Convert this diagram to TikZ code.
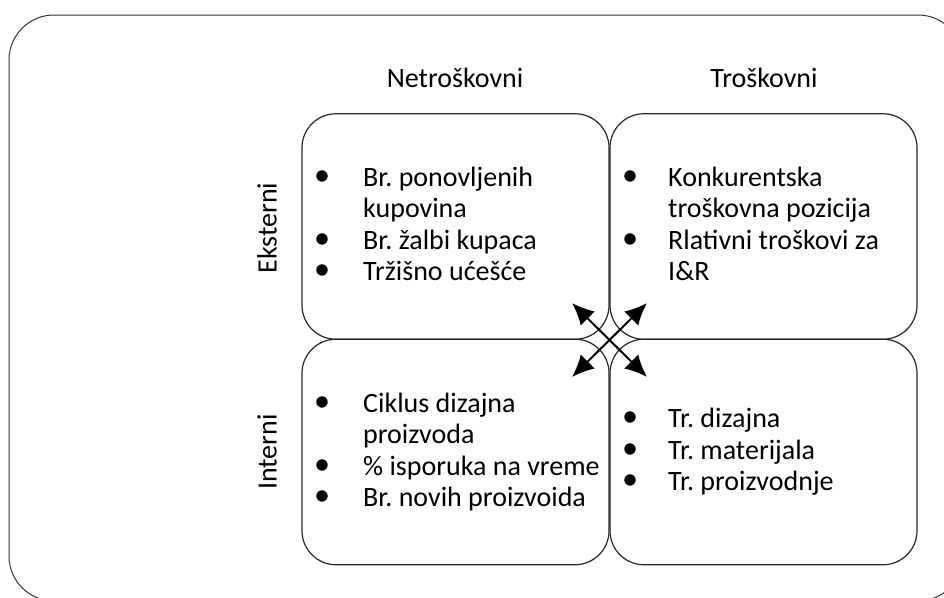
\documentclass[tikz,border=0pt]{standalone}
\usepackage{fontspec}
\setmainfont{Carlito}
\usetikzlibrary{arrows.meta}
\frenchspacing
\newcommand{\bul}{\raisebox{1pt}{\scalebox{1.15}{•}}}
\begin{document}
\begin{tikzpicture}[x=1pt,y=-1pt,
  quad/.style={draw=black!85,line width=1.2pt,rounded corners=34pt,minimum width=307pt,minimum height=225.5pt,inner sep=0pt},
  lbl/.style={font=\fontsize{28}{31.5}\selectfont,inner sep=0pt},
  lst/.style={lbl,anchor=west,align=left},
  dbl/.style={line width=2pt,{Latex[length=22pt,width=20pt]}-{Latex[length=22pt,width=20pt]}}]
\useasboundingbox (0,0) rectangle (944,597);
\clip (0,0) rectangle (944,597);
% outer frame
\draw[black!80,line width=1pt,rounded corners=45pt] (9,15) rectangle (963,601);
% quadrants
\node[quad] (tl) at (455.5,226.5) {};
\node[quad] (tr) at (763.5,226.5) {};
\node[quad] (bl) at (455.5,452) {};
\node[quad] (br) at (763.5,452) {};
% headers
\node[lbl] (h1) at (455,78) {Netroškovni};
\node[lbl] (h2) at (764,78) {Troškovni};
\node[lbl,rotate=90] (s1) at (267,228) {Eksterni};
\node[lbl,rotate=90] (s2) at (267,452) {Interni};
% lists
\node[lst] (l1) at (314,227) {\begin{tabular}{@{}p{49pt}@{}l@{}}\bul & Br. ponovljenih\\ & kupovina\\ \bul & Br. žalbi kupaca\\ \bul & Tržišno ućešće\end{tabular}};
\node[lst] (l2) at (622,227) {\begin{tabular}{@{}p{46pt}@{}l@{}}\bul & Konkurentska\\ & troškovna pozicija\\ \bul & Rlativni troškovi za\\ & I\&R\end{tabular}};
\node[lst] (l3) at (314,453) {\begin{tabular}{@{}p{49pt}@{}l@{}}\bul & Ciklus dizajna\\ & proizvoda\\ \bul & \% isporuka na vreme\\ \bul & Br. novih proizvoida\end{tabular}};
\node[lst] (l4) at (622,453) {\begin{tabular}{@{}p{46pt}@{}l@{}}\bul & Tr. dizajna\\ \bul & Tr. materijala\\ \bul & Tr. proizvodnje\end{tabular}};
% arrows
\coordinate (a1) at (572,303);
\coordinate (a2) at (647,377);
\coordinate (a3) at (647,303);
\coordinate (a4) at (572,377);
\draw[dbl] (a1) -- (a2);
\draw[dbl] (a3) -- (a4);
\end{tikzpicture}
\end{document}
